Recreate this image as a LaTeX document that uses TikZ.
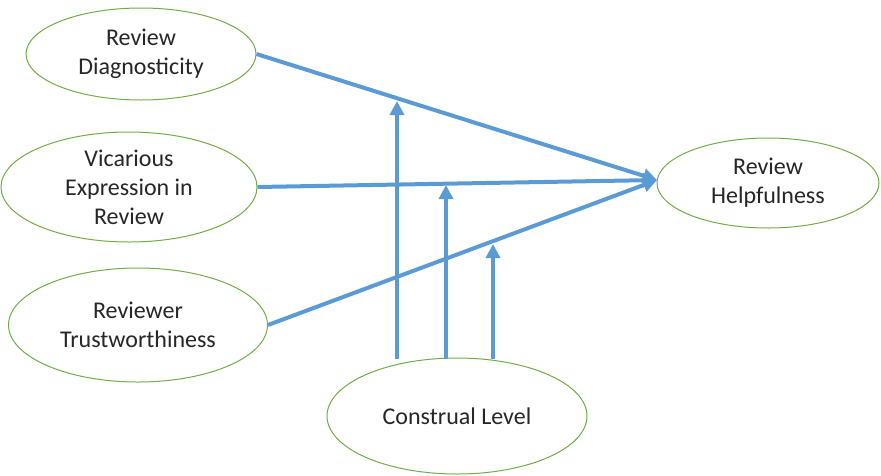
\documentclass[tikz,border=0pt]{standalone}
\usepackage{fontspec}
\setmainfont{Carlito}
\usetikzlibrary{shapes.geometric,arrows.meta}
\definecolor{lnblue}{RGB}{91,155,213}
\definecolor{elgreen}{RGB}{112,173,71}
\definecolor{txt}{RGB}{38,38,38}
\begin{document}
\begin{tikzpicture}[x=1pt,y=-1pt,
  ell/.style={ellipse,draw=elgreen,line width=1pt,inner sep=0pt,align=center,
    text=txt,font=\fontsize{24}{29}\selectfont},
  conn/.style={draw=lnblue,line width=4pt,-{Triangle[length=14pt,width=14pt]}}]
\useasboundingbox (0,0) rectangle (881,475);
\node[ell,minimum width=230pt,minimum height=92pt] (d) at (141,54) {Review\\Diagnosticity};
\node[ell,minimum width=256pt,minimum height=110pt] (v) at (129,187) {Vicarious\\Expression in\\Review};
\node[ell,minimum width=259pt,minimum height=114pt] (t) at (138,325) {Reviewer\\Trustworthiness};
\node[ell,minimum width=222pt,minimum height=90pt] (h) at (768,183) {Review\\Helpfulness};
\node[ell,minimum width=260pt,minimum height=116pt] (c) at (457,416) {Construal Level};
\coordinate (hw) at (657,180);
\draw[conn] (d.east) -- (hw);
\draw[conn] (v.east) -- (hw);
\draw[conn] (t.east) -- (hw);
\coordinate (s1) at (397,359);
\coordinate (s2) at (446,359);
\coordinate (s3) at (493,359);
\coordinate (e1) at (397,101);
\coordinate (e2) at (446,185);
\coordinate (e3) at (493,244);
\draw[conn] (s1) -- (e1);
\draw[conn] (s2) -- (e2);
\draw[conn] (s3) -- (e3);
\end{tikzpicture}
\end{document}
